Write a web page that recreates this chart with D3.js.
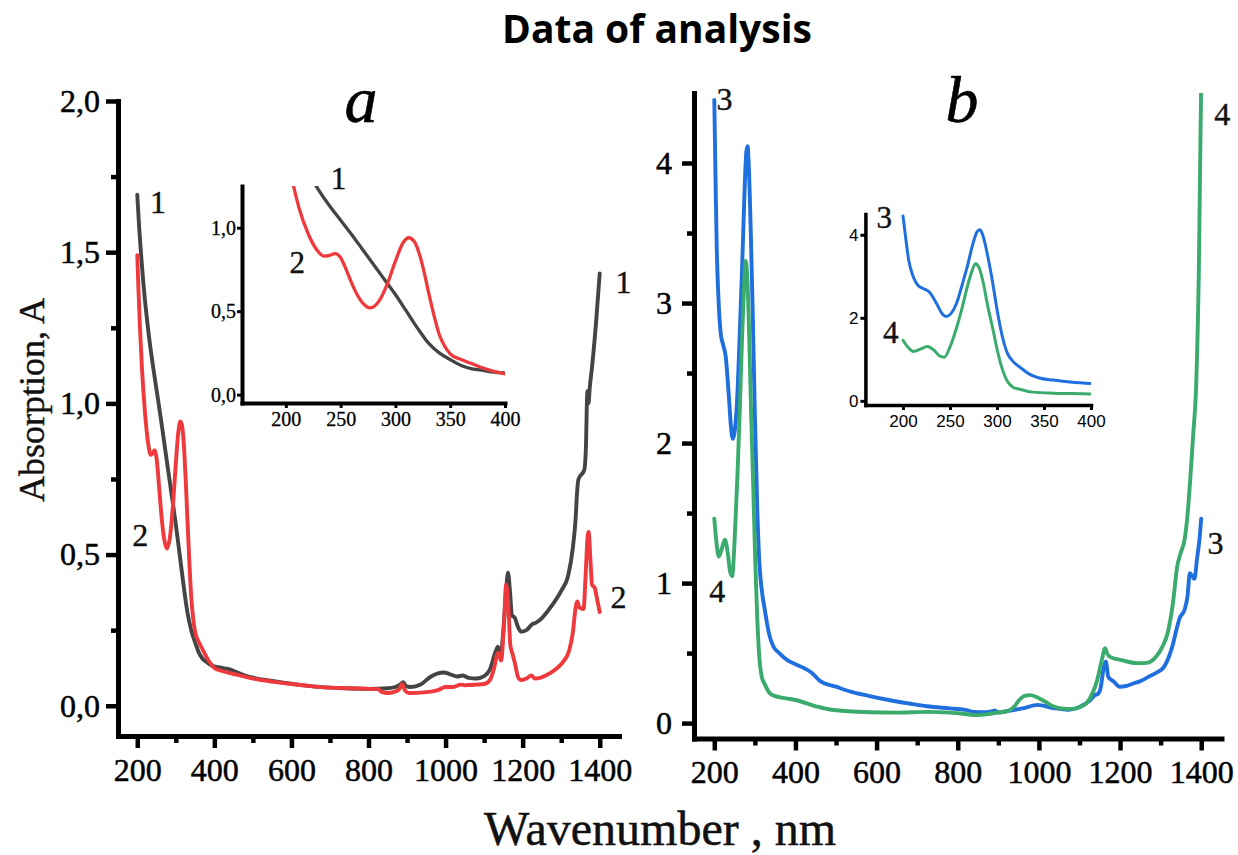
<!DOCTYPE html>
<html>
<head>
<meta charset="utf-8">
<script src="https://cdn.jsdelivr.net/npm/d3@7"></script>
<style>
  body { margin: 0; background: #fff; }
  svg { display: block; }
</style>
</head>
<body>
<svg id="chart" width="1238" height="855"></svg>
<script>
// Absorption spectra: [wavelength, nm ; absorbance, A]
const spectrum1 = [
  [200,1.69],[205,1.58],[210,1.49],[215,1.41],[220,1.34],[225,1.28],[230,1.225],[240,1.13],
  [250,1.045],[260,0.96],[270,0.87],[280,0.78],[290,0.69],[300,0.60],[310,0.50],[320,0.40],
  [330,0.31],[340,0.25],[350,0.21],[360,0.175],[370,0.155],[380,0.145],[390,0.135],[400,0.13],
  [420,0.125],[440,0.12],[460,0.11],[480,0.10],[500,0.093],[550,0.082],[600,0.073],[650,0.065],
  [700,0.06],[750,0.057],[800,0.056],[850,0.058],[870,0.062],[882,0.07],[890,0.078],[897,0.065],
  [910,0.062],[935,0.07],[960,0.095],[980,0.107],[995,0.11],[1010,0.105],[1030,0.097],[1045,0.10],
  [1060,0.092],[1080,0.09],[1100,0.098],[1115,0.12],[1130,0.18],[1136,0.195],[1142,0.16],[1150,0.25],
  [1157,0.38],[1162,0.44],[1167,0.38],[1172,0.30],[1180,0.29],[1188,0.26],[1196,0.245],[1210,0.25],
  [1225,0.27],[1235,0.275],[1250,0.29],[1275,0.33],[1300,0.38],[1318,0.43],[1330,0.52],[1337,0.61],
  [1342,0.72],[1345,0.75],[1360,0.78],[1364,0.85],[1368,1.04],[1371,1.0],[1374,1.05],[1380,1.12],
  [1390,1.26],[1400,1.43]
];
const spectrum2 = [
  [200,1.49],[203,1.38],[207,1.25],[212,1.12],[220,0.97],[228,0.87],[235,0.83],[240,0.835],
  [245,0.845],[250,0.82],[255,0.75],[260,0.67],[265,0.60],[270,0.55],[277,0.52],[285,0.56],
  [293,0.67],[300,0.80],[307,0.91],[312,0.94],[317,0.92],[322,0.84],[326,0.74],[330,0.62],
  [335,0.48],[340,0.36],[345,0.29],[350,0.245],[360,0.21],[370,0.185],[380,0.16],[390,0.14],
  [400,0.125],[420,0.115],[450,0.105],[500,0.09],[550,0.08],[600,0.072],[650,0.065],[700,0.06],
  [750,0.058],[800,0.056],[825,0.055],[835,0.045],[850,0.042],[865,0.045],[880,0.055],[887,0.072],
  [895,0.05],[905,0.042],[950,0.045],[980,0.052],[1000,0.062],[1020,0.062],[1040,0.07],[1050,0.068],
  [1080,0.07],[1100,0.072],[1115,0.085],[1125,0.12],[1136,0.175],[1144,0.15],[1152,0.28],[1157,0.40],
  [1163,0.33],[1168,0.20],[1173,0.175],[1180,0.14],[1188,0.095],[1196,0.085],[1210,0.09],[1222,0.10],
  [1232,0.09],[1245,0.092],[1260,0.10],[1285,0.12],[1305,0.145],[1320,0.18],[1330,0.24],[1337,0.32],
  [1342,0.345],[1347,0.325],[1358,0.32],[1363,0.42],[1368,0.55],[1371,0.575],[1376,0.48],[1380,0.40],
  [1387,0.39],[1392,0.36],[1400,0.31]
];
const spectrum3 = [
  [200,4.45],[203,3.9],[206,3.4],[210,3.05],[216,2.78],[222,2.70],[228,2.62],[236,2.33],
  [241,2.12],[246,2.03],[251,2.10],[257,2.35],[263,2.8],[268,3.2],[274,3.75],[279,4.08],
  [282,4.12],[285,3.98],[290,3.5],[295,2.9],[300,2.2],[306,1.52],[311,1.15],[317,0.95],
  [325,0.80],[334,0.65],[345,0.55],[360,0.50],[380,0.45],[400,0.42],[423,0.39],[440,0.36],
  [461,0.30],[500,0.26],[536,0.225],[580,0.195],[630,0.165],[680,0.14],[724,0.12],[780,0.105],
  [818,0.095],[840,0.08],[870,0.078],[885,0.085],[892,0.09],[898,0.076],[930,0.09],[960,0.105],
  [997,0.13],[1035,0.108],[1072,0.095],[1100,0.115],[1125,0.16],[1138,0.20],[1146,0.21],[1152,0.25],
  [1160,0.40],[1165,0.44],[1171,0.33],[1178,0.31],[1185,0.295],[1199,0.26],[1215,0.265],[1232,0.283],
  [1250,0.30],[1270,0.33],[1290,0.36],[1308,0.40],[1320,0.47],[1331,0.57],[1340,0.68],[1347,0.75],
  [1359,0.81],[1366,0.9],[1372,1.07],[1378,1.05],[1383,1.03],[1390,1.18],[1396,1.32],[1400,1.46]
];
const spectrum4 = [
  [200,1.46],[205,1.30],[211,1.19],[218,1.24],[226,1.31],[233,1.22],[239,1.08],[244,1.05],
  [250,1.30],[257,1.76],[263,2.25],[268,2.71],[273,3.1],[277,3.30],[281,3.20],[285,2.88],
  [290,2.3],[296,1.69],[301,1.15],[306,0.74],[311,0.47],[317,0.33],[324,0.28],[338,0.21],
  [360,0.185],[380,0.175],[400,0.165],[450,0.12],[489,0.095],[583,0.078],[650,0.075],[724,0.08],
  [780,0.075],[818,0.065],[847,0.057],[870,0.062],[894,0.074],[922,0.085],[940,0.12],[950,0.16],
  [965,0.195],[978,0.20],[995,0.185],[1016,0.152],[1035,0.12],[1054,0.105],[1082,0.10],[1105,0.12],
  [1120,0.152],[1133,0.22],[1143,0.30],[1155,0.45],[1163,0.535],[1168,0.50],[1174,0.475],[1204,0.45],
  [1242,0.428],[1266,0.43],[1289,0.475],[1305,0.55],[1317,0.64],[1330,0.85],[1341,1.12],[1350,1.22],
  [1359,1.31],[1366,1.48],[1373,1.74],[1380,2.05],[1388,2.45],[1394,3.2],[1400,4.6]
];

// Axis ticks
const mainWaveTicks = [200, 400, 600, 800, 1000, 1200, 1400];
const mainWaveMinor = [300, 500, 700, 900, 1100, 1300];
const panelATicks = [0, 0.5, 1.0, 1.5, 2.0];
const panelAMinor = [0.25, 0.75, 1.25, 1.75];
const panelBTicks = [0, 1, 2, 3, 4];
const panelBMinor = [0.5, 1.5, 2.5, 3.5];
const insetWaveTicks = [200, 250, 300, 350, 400];
const insetATicks = [0, 0.5, 1.0];
const insetBTicks = [0, 2, 4];

const colors = { s1: "#444444", s2: "#ee3a3d", s3: "#1f6fde", s4: "#3aab6c" };

const svg = d3.select("#chart");
const serif = "'Liberation Serif','Times New Roman',serif";
const sans = "'Liberation Sans',Arial,sans-serif";
const comma = d => d3.format(".1f")(d).replace(".", ",");

let clipId = 0;

function frame(cfg) {
  const g = svg.append("g");
  const { x, y } = cfg;
  const [xl, xr] = x.range();
  const [yb, yt] = y.range();

  const bottom = g.append("g").attr("transform", `translate(0,${yb})`)
    .call(d3.axisBottom(x).tickValues(cfg.xTicks).tickSize(cfg.tick).tickSizeOuter(0)
      .tickPadding(cfg.xPad).tickFormat(d3.format("d")));
  const left = g.append("g").attr("transform", `translate(${xl},0)`)
    .call(d3.axisLeft(y).tickValues(cfg.yTicks).tickSize(cfg.tick).tickSizeOuter(0)
      .tickPadding(cfg.yPad).tickFormat(cfg.yFmt));

  [bottom, left].forEach(a => {
    a.attr("font-family", cfg.font).attr("font-size", cfg.fontSize);
    a.select(".domain").attr("stroke", "#000").attr("stroke-width", cfg.lw)
      .attr("stroke-linecap", "square");
    a.selectAll(".tick line").attr("stroke", "#000").attr("stroke-width", cfg.tickW);
    a.selectAll(".tick text").attr("fill", "#000")
      .attr("stroke", "#000").attr("stroke-width", cfg.textStroke || 0);
  });

  if (cfg.xMinor) {
    const m = g.append("g").attr("transform", `translate(0,${yb})`)
      .call(d3.axisBottom(x).tickValues(cfg.xMinor).tickSize(cfg.minor).tickFormat(""));
    m.select(".domain").remove();
    m.selectAll(".tick line").attr("stroke", "#000").attr("stroke-width", cfg.tickW);
  }
  if (cfg.yMinor) {
    const m = g.append("g").attr("transform", `translate(${xl},0)`)
      .call(d3.axisLeft(y).tickValues(cfg.yMinor).tickSize(cfg.minor).tickFormat(""));
    m.select(".domain").remove();
    m.selectAll(".tick line").attr("stroke", "#000").attr("stroke-width", cfg.tickW);
  }

  const id = "clip" + (clipId++);
  svg.append("clipPath").attr("id", id).append("rect")
    .attr("x", xl).attr("y", yt).attr("width", xr - xl).attr("height", yb - yt);
  const plot = g.append("g").attr("clip-path", `url(#${id})`);
  return { g, plot };
}

function drawSpectrum(target, x, y, data, color, width) {
  const line = d3.line()
    .x(d => x(d[0]))
    .y(d => y(d[1]))
    .curve(d3.curveMonotoneX);
  target.append("path")
    .datum(data)
    .attr("fill", "none")
    .attr("stroke", color)
    .attr("stroke-width", width)
    .attr("stroke-linejoin", "round")
    .attr("stroke-linecap", "round")
    .attr("d", line);
}

function tag(g, x, y, text, wave, value, size) {
  g.append("text")
    .attr("x", x(wave)).attr("y", y(value))
    .attr("text-anchor", "middle")
    .attr("font-family", serif).attr("font-size", size)
    .attr("fill", "#111").attr("stroke", "#111").attr("stroke-width", 0.4)
    .text(text);
}

const uv = d => d[0] <= 400;

// ---------- panel a ----------
const xA = d3.scaleLinear().domain([150, 1450]).range([118, 619]);
const yA = d3.scaleLinear().domain([-0.1, 2.0]).range([736, 101]);
const pA = frame({
  x: xA, y: yA, xTicks: mainWaveTicks, xMinor: mainWaveMinor,
  yTicks: panelATicks, yMinor: panelAMinor, yFmt: comma,
  lw: 5, tick: 12, minor: 7, tickW: 4.5, font: serif, fontSize: 32, xPad: 10, yPad: 6,
  textStroke: 0.5
});
drawSpectrum(pA.plot, xA, yA, spectrum1, colors.s1, 3.9);
drawSpectrum(pA.plot, xA, yA, spectrum2, colors.s2, 3.9);
tag(pA.g, xA, yA, "1", 254, 1.63, 32);
tag(pA.g, xA, yA, "2", 208, 0.53, 32);
tag(pA.g, xA, yA, "1", 1462, 1.365, 32);
tag(pA.g, xA, yA, "2", 1449, 0.324, 32);

// inset a
const xAi = d3.scaleLinear().domain([160, 400]).range([242, 505]);
const yAi = d3.scaleLinear().domain([-0.05, 1.25]).range([403, 186]);
const pAi = frame({
  x: xAi, y: yAi, xTicks: insetWaveTicks, yTicks: insetATicks, yFmt: comma,
  lw: 4, tick: 5, tickW: 3, font: serif, fontSize: 20, xPad: 4, yPad: 1, textStroke: 0.3
});
drawSpectrum(pAi.plot, xAi, yAi, spectrum1.filter(uv), colors.s1, 3.3);
drawSpectrum(pAi.plot, xAi, yAi, spectrum2.filter(uv), colors.s2, 3.3);
tag(pAi.g, xAi, yAi, "1", 248, 1.23, 31);
tag(pAi.g, xAi, yAi, "2", 210.5, 0.73, 31);

// ---------- panel b ----------
const xB = d3.scaleLinear().domain([150, 1450]).range([694, 1221.5]);
const yB = d3.scaleLinear().domain([-0.11, 4.5]).range([738.5, 93]);
const pB = frame({
  x: xB, y: yB, xTicks: mainWaveTicks, xMinor: mainWaveMinor,
  yTicks: panelBTicks, yMinor: panelBMinor, yFmt: d3.format("d"),
  lw: 5, tick: 12, minor: 7, tickW: 4.5, font: serif, fontSize: 32, xPad: 10, yPad: 10,
  textStroke: 0.5
});
drawSpectrum(pB.plot, xB, yB, spectrum3, colors.s3, 3.9);
drawSpectrum(pB.plot, xB, yB, spectrum4, colors.s4, 3.9);
tag(pB.g, xB, yB, "3", 225, 4.38, 32);
tag(pB.g, xB, yB, "4", 207, 0.864, 32);
tag(pB.g, xB, yB, "3", 1435, 1.21, 32);
tag(pB.g, xB, yB, "4", 1452, 4.27, 32);

// inset b
const xBi = d3.scaleLinear().domain([160, 400]).range([865.4, 1091]);
const yBi = d3.scaleLinear().domain([-0.1, 4.5]).range([405, 214]);
const pBi = frame({
  x: xBi, y: yBi, xTicks: insetWaveTicks, yTicks: insetBTicks, yFmt: d3.format("d"),
  lw: 3.5, tick: 5, tickW: 3, font: sans, fontSize: 17, xPad: 5, yPad: 2
});
drawSpectrum(pBi.plot, xBi, yBi, spectrum3.filter(uv), colors.s3, 3);
drawSpectrum(pBi.plot, xBi, yBi, spectrum4.filter(uv), colors.s4, 3);
tag(pBi.g, xBi, yBi, "3", 180, 4.17, 31);
tag(pBi.g, xBi, yBi, "4", 187, 1.40, 31);

// ---------- titles ----------
svg.append("text")
  .attr("x", 657).attr("y", 43).attr("text-anchor", "middle")
  .attr("font-family", "'Open Sans','Liberation Sans',Arial,sans-serif")
  .attr("font-weight", 700).attr("font-size", 39).attr("fill", "#000")
  .text("Data of analysis");

svg.append("text")
  .attr("x", 361).attr("y", 122).attr("text-anchor", "middle")
  .attr("font-family", serif).attr("font-style", "italic").attr("font-size", 66)
  .attr("fill", "#000").attr("stroke", "#000").attr("stroke-width", 0.6)
  .text("a");
svg.append("text")
  .attr("x", 962).attr("y", 122).attr("text-anchor", "middle")
  .attr("font-family", serif).attr("font-style", "italic").attr("font-size", 66)
  .attr("fill", "#000").attr("stroke", "#000").attr("stroke-width", 0.6)
  .text("b");

svg.append("text")
  .attr("x", 660).attr("y", 845).attr("text-anchor", "middle")
  .attr("font-family", serif).attr("font-size", 48)
  .attr("fill", "#111").attr("stroke", "#111").attr("stroke-width", 0.5)
  .text("Wavenumber , nm");

svg.append("text")
  .attr("transform", "translate(44,400) rotate(-90)")
  .attr("text-anchor", "middle")
  .attr("font-family", serif).attr("font-size", 36)
  .attr("fill", "#111").attr("stroke", "#111").attr("stroke-width", 0.4)
  .text("Absorption, A");
</script>
</body>
</html>
